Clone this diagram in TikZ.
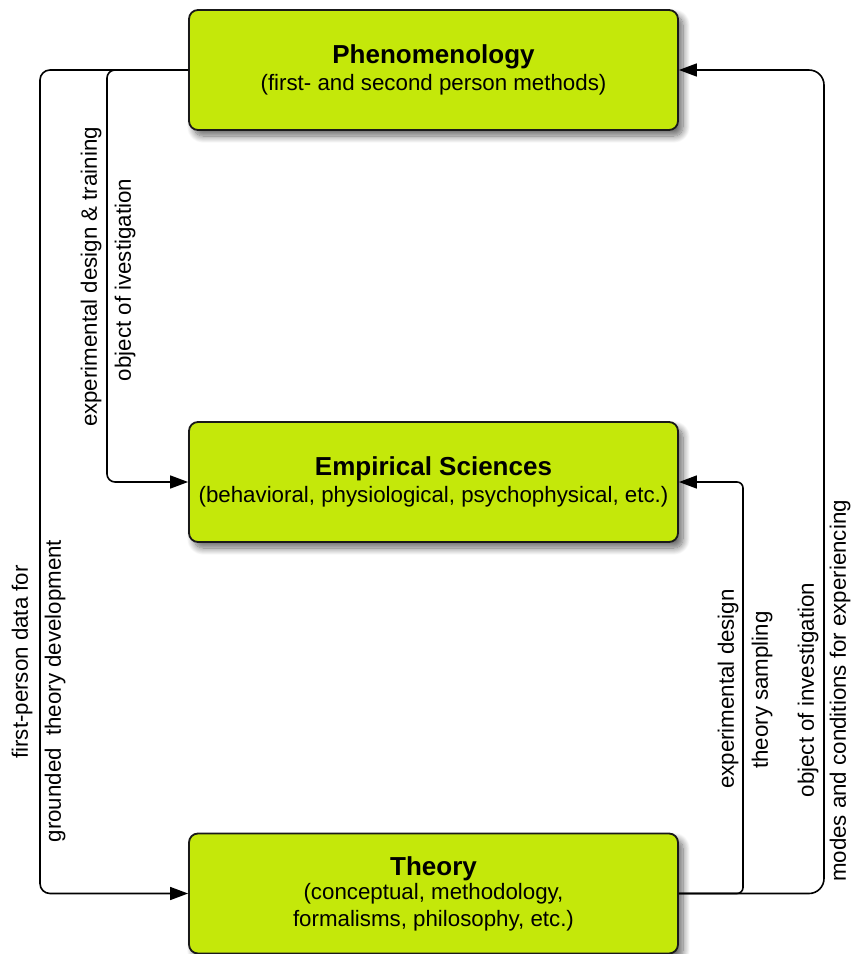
\documentclass[tikz,border=0pt]{standalone}
\usepackage{fontspec}
\setmainfont{Liberation Sans}
\usetikzlibrary{shadows.blur,arrows.meta}
\definecolor{boxgreen}{RGB}{196,232,10}
\tikzset{
  box/.style={draw=black!90, line width=1.8pt, fill=boxgreen, rounded corners=9pt,
    minimum width=489pt, minimum height=120pt, inner sep=0pt, align=center,
    font=\fontsize{22.3}{26.5}\selectfont,
    blur shadow={shadow xshift=5pt, shadow yshift=-6pt, shadow blur steps=12, shadow blur radius=7pt, shadow opacity=60}},
  conn/.style={draw=black, line width=1.6pt, -{Triangle[length=18pt,width=13pt]}},
  lab/.style={rotate=90, inner sep=0pt, font=\fontsize{22.3}{26}\selectfont}
}
\newcommand{\boxtitle}[1]{{\fontsize{26}{29}\selectfont\bfseries #1}}
\begin{document}
\begin{tikzpicture}[x=1pt,y=-1pt]
\useasboundingbox (0,0) rectangle (852,954);
\node[box] (phen) at (433.5,70) {\boxtitle{Phenomenology}\\[1pt](first- and second person methods)};
\node[box] (emp) at (433.5,482) {\boxtitle{Empirical Sciences}\\[0pt](behavioral, physiological, psychophysical, etc.)};
\node[box] (theo) at (433.5,893.5) {\boxtitle{Theory}\\[-2pt](conceptual, methodology,\\formalisms, philosophy, etc.)};

\draw[conn, rounded corners=10pt] (phen.west) -| (40,480) |- (theo.west);
\draw[conn, rounded corners=8pt] (phen.west) -| (107,300) |- (emp.west);
\draw[conn, rounded corners=6pt] (theo.east) -| (743,700) |- (emp.east);
\draw[conn, rounded corners=15pt] (theo.east) -| (824,500) |- (phen.east);

\node[lab] (l1a) at (22,662) {first-person data for};
\node[lab] (l1b) at (55,691) {grounded\ \ theory development};
\node[lab] (l2a) at (91,277) {experimental design \& training};
\node[lab] (l2b) at (125,280) {object of ivestigation};
\node[lab] (l3a) at (728,689) {experimental design};
\node[lab] (l3b) at (762,690) {theory sampling};
\node[lab] (l4a) at (808,690) {object of investigation};
\node[lab] (l4b) at (840,691) {modes and conditions for experiencing};
\end{tikzpicture}
\end{document}
